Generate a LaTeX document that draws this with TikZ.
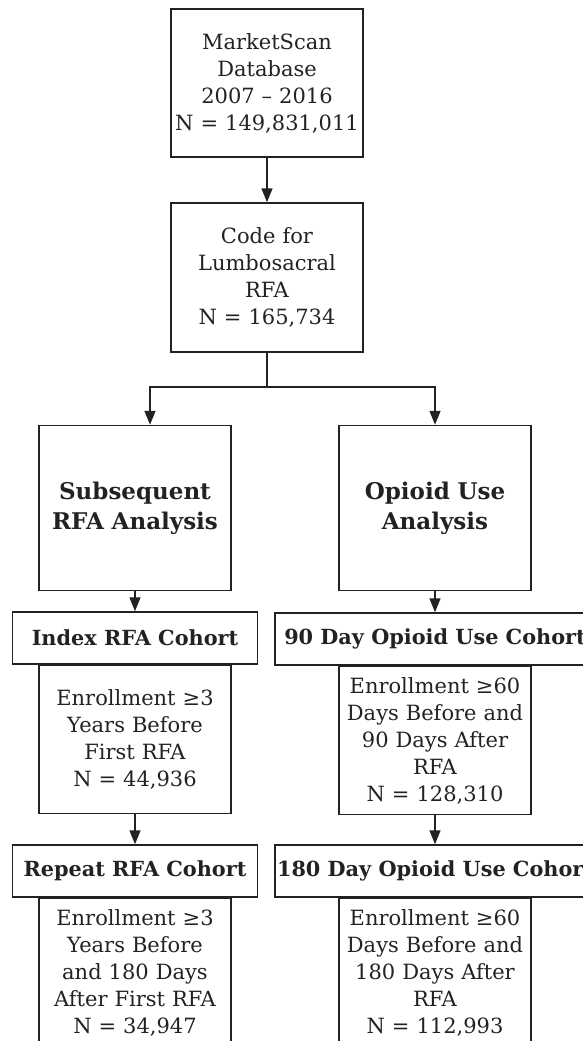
\documentclass[tikz,border=0pt]{standalone}
\usepackage{fontspec}
\setmainfont{DejaVu Serif}
\usetikzlibrary{arrows.meta}
\definecolor{linea}{HTML}{222222}
\tikzset{
	caja/.style={draw=linea, text=linea, line width=1.5pt, align=center, text width=192pt, inner sep=0pt, font=\fontsize{21}{27}\selectfont},
	negrita/.style={font=\fontsize{23}{30}\selectfont\bfseries},
	cabecera/.style={draw=linea, text=linea, line width=1.5pt, minimum width=245pt, minimum height=52pt, inner sep=0pt, font=\fontsize{20.8}{24}\selectfont\bfseries},
	flecha/.style={draw=linea, line width=1.5pt, -{Triangle[length=14pt,width=11pt]}}
}
\begin{document}
\begin{tikzpicture}[x=1pt, y=-1pt]
	\useasboundingbox (0,0) rectangle (583,1041);
	% Cajas superiores
		\node[caja, minimum height=148pt] (base) at (267,83) {MarketScan\\Database\\2007 – 2016\\N = 149,831,011};
		\node[caja, minimum height=149pt] (codigo) at (267,277.5) {Code for\\Lumbosacral\\RFA\\N = 165,734};
	% Analisis
		\node[caja, negrita, minimum height=165pt] (subsec) at (135,508) {Subsequent\\RFA Analysis};
		\node[caja, negrita, minimum height=165pt] (opioide) at (435,508) {Opioid Use\\Analysis};
	% Columna izquierda
		\node[cabecera] (indice) at (135,638) {Index RFA Cohort};
		\node[caja, minimum height=148pt, anchor=north] (indiceN) at (indice.south) {Enrollment ≥3\\Years Before\\First RFA\\N = 44,936};
		\node[cabecera] (repite) at (135,871) {Repeat RFA Cohort};
		\node[caja, minimum height=148pt, anchor=north] (repiteN) at (repite.south) {Enrollment ≥3\\Years Before\\and 180 Days\\After First RFA\\N = 34,947};
	% Columna derecha
		\node[cabecera, minimum width=320pt] (dias90) at (435,639) {90 Day Opioid Use Cohort};
		\node[caja, minimum height=148pt, anchor=north] (dias90N) at (dias90.south) {Enrollment ≥60\\Days Before and\\90 Days After\\RFA\\N = 128,310};
		\node[cabecera, minimum width=320pt] (dias180) at (435,871) {180 Day Opioid Use Cohort};
		\node[caja, minimum height=148pt, anchor=north] (dias180N) at (dias180.south) {Enrollment ≥60\\Days Before and\\180 Days After\\RFA\\N = 112,993};
	% Flechas
		\coordinate (ramaI) at (150,387);
		\coordinate (ramaD) at (435,387);
		\draw[flecha] (base) -- (codigo);
		\draw[flecha] (codigo.south) |- (ramaI) -- (ramaI |- subsec.north);
		\draw[flecha] (codigo.south) |- (ramaD) -- (ramaD |- opioide.north);
		\draw[flecha] (subsec) -- (indice);
		\draw[flecha] (opioide) -- (dias90);
		\draw[flecha] (indiceN) -- (repite);
		\draw[flecha] (dias90N) -- (dias180);
\end{tikzpicture}
\end{document}
